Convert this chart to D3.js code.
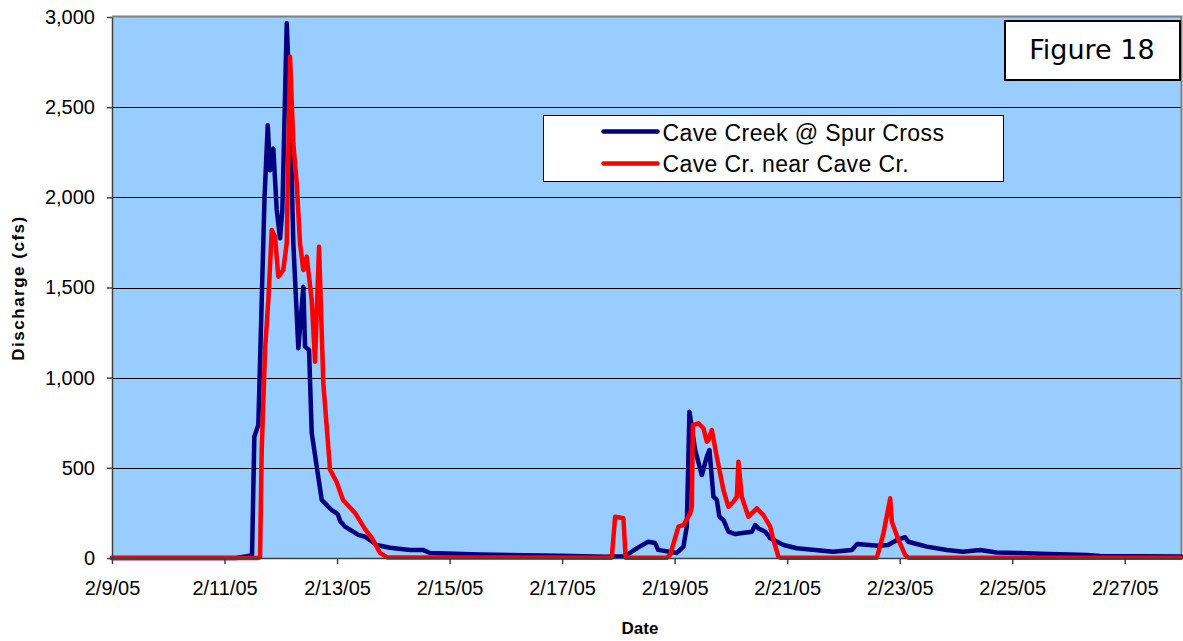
<!DOCTYPE html>
<html>
<head>
<meta charset="utf-8">
<script src="https://cdn.jsdelivr.net/npm/d3@7"></script>
<style>
  body { margin: 0; background: #fff; }
  svg { display: block; font-family: 'Liberation Sans', Arial, sans-serif; }
</style>
</head>
<body>
<svg width="1183" height="641"></svg>
<script>
// Cave Creek @ Spur Cross
const spurTimes = ["2/9/05 00:00", "2/11/05 04:54", "2/11/05 09:36", "2/11/05 11:44", "2/11/05 12:43", "2/11/05 14:25",
  "2/11/05 15:52", "2/11/05 17:04", "2/11/05 18:26", "2/11/05 19:25", "2/11/05 20:49", "2/11/05 22:16", "2/11/05 23:41",
  "2/12/05 00:40", "2/12/05 02:32", "2/12/05 03:57", "2/12/05 05:21", "2/12/05 07:29", "2/12/05 09:37", "2/12/05 10:21",
  "2/12/05 12:03", "2/12/05 13:12", "2/12/05 15:20", "2/12/05 17:28", "2/12/05 21:44", "2/12/05 23:52", "2/13/05 00:25",
  "2/13/05 01:17", "2/13/05 03:25", "2/13/05 09:05", "2/13/05 11:57", "2/13/05 16:56", "2/13/05 22:37", "2/14/05 07:09",
  "2/14/05 12:49", "2/14/05 15:41", "2/15/05 13:00", "2/16/05 23:08", "2/17/05 18:21", "2/18/05 02:53", "2/18/05 08:00",
  "2/18/05 12:42", "2/18/05 15:41", "2/18/05 16:58", "2/19/05 00:56", "2/19/05 03:45", "2/19/05 05:11", "2/19/05 06:19",
  "2/19/05 08:45", "2/19/05 11:36", "2/19/05 13:44", "2/19/05 14:51", "2/19/05 16:34", "2/19/05 17:59", "2/19/05 19:06",
  "2/19/05 20:49", "2/19/05 22:57", "2/20/05 01:49", "2/20/05 08:57", "2/20/05 10:22", "2/20/05 11:47", "2/20/05 14:38",
  "2/20/05 16:46", "2/20/05 22:27", "2/21/05 04:09", "2/21/05 19:38", "2/22/05 03:36", "2/22/05 05:52", "2/22/05 14:50",
  "2/22/05 19:06", "2/22/05 22:49", "2/23/05 02:21", "2/23/05 03:38", "2/23/05 11:36", "2/23/05 20:08", "2/24/05 03:05",
  "2/24/05 10:20", "2/24/05 17:27", "2/25/05 03:24", "2/25/05 11:56", "2/26/05 07:51", "2/26/05 13:32", "2/28/05 00:00"];
const spurFlow = [0, 0, 10, 15, 672, 737,
  1431, 2000, 2400, 2150, 2270, 1930, 1773,
  1930, 2965, 2484, 1746, 1163, 1504, 1172,
  1153, 693, 506, 322, 266, 248, 240,
  205, 174, 128, 118, 72, 57, 44,
  44, 28, 20, 12, 7, 10, 55,
  90, 83, 45, 28, 63, 174, 811,
  599, 460, 562, 599, 340, 322, 229,
  211, 146, 133, 146, 183, 164, 146,
  109, 72, 54, 35, 44, 78, 68,
  72, 100, 115, 90, 63, 44, 35,
  44, 30, 28, 24, 17, 11, 8];

// Cave Cr. near Cave Cr.
const caveTimes = ["2/9/05 00:00", "2/11/05 14:17", "2/11/05 15:09", "2/11/05 15:52", "2/11/05 17:17", "2/11/05 18:42",
  "2/11/05 20:09", "2/11/05 21:33", "2/11/05 22:57", "2/12/05 01:05", "2/12/05 02:32", "2/12/05 03:57", "2/12/05 05:21",
  "2/12/05 06:48", "2/12/05 08:12", "2/12/05 09:37", "2/12/05 11:04", "2/12/05 13:12", "2/12/05 14:37", "2/12/05 16:19",
  "2/12/05 18:09", "2/12/05 21:01", "2/12/05 23:52", "2/13/05 02:33", "2/13/05 07:41", "2/13/05 11:57", "2/13/05 14:56",
  "2/13/05 18:21", "2/13/05 21:20", "2/17/05 21:12", "2/17/05 22:37", "2/18/05 02:09", "2/18/05 03:06", "2/18/05 20:40",
  "2/18/05 22:05", "2/19/05 01:38", "2/19/05 03:45", "2/19/05 06:37", "2/19/05 07:21", "2/19/05 07:46", "2/19/05 10:10",
  "2/19/05 12:18", "2/19/05 13:44", "2/19/05 14:25", "2/19/05 15:52", "2/19/05 17:59", "2/19/05 20:49", "2/19/05 22:57",
  "2/20/05 01:05", "2/20/05 02:32", "2/20/05 03:13", "2/20/05 04:38", "2/20/05 07:29", "2/20/05 11:04", "2/20/05 13:53",
  "2/20/05 16:46", "2/20/05 18:08", "2/20/05 20:17", "2/20/05 21:00", "2/22/05 14:16", "2/22/05 17:05", "2/22/05 19:57",
  "2/22/05 20:40", "2/22/05 23:29", "2/23/05 02:21", "2/23/05 03:43", "2/28/05 00:00"];
const caveFlow = [0, 0, 5, 600, 1153, 1431,
  1819, 1782, 1560, 1597, 1746, 2780, 2300,
  2078, 1745, 1597, 1671, 1431, 1088, 1726,
  968, 490, 420, 322, 250, 160, 110,
  28, 3, 2, 229, 220, 2, 2,
  17, 174, 183, 248, 284, 737, 747,
  719, 645, 654, 710, 562, 377, 284,
  312, 340, 534, 340, 229, 275, 238,
  174, 100, 7, 2, 2, 137, 331,
  201, 100, 17, 2, 2];

const seriesNames = ["Cave Creek @ Spur Cross", "Cave Cr. near Cave Cr."];
const seriesColours = ["#000080", "#ff0000"];
const yTicks = [0, 500, 1000, 1500, 2000, 2500, 3000];
const xTickLabels = ["2/9/05", "2/11/05", "2/13/05", "2/15/05", "2/17/05", "2/19/05", "2/21/05", "2/23/05", "2/25/05", "2/27/05"];
const xDomain = ["2/9/05 00:00", "2/28/05 00:00"];

const svg = d3.select('svg');
const margin = { top: 17, right: 2, bottom: 83, left: 112 };
const width = +svg.attr('width');
const height = +svg.attr('height');

const parseTime = d3.timeParse('%m/%d/%y %H:%M');
const parseDay = d3.timeParse('%m/%d/%y');

let spurData = spurTimes.map((t, i) => ({ date: parseTime(t), value: spurFlow[i] }));
let caveData = caveTimes.map((t, i) => ({ date: parseTime(t), value: caveFlow[i] }));

let xScale = d3.scaleTime()
    .domain(xDomain.map(parseTime))
    .range([margin.left, width - margin.right]);

let yScale = d3.scaleLinear()
    .domain([0, 3000])
    .range([height - margin.bottom, margin.top]);

// plot area
svg.append('rect')
    .attr('x', margin.left)
    .attr('y', margin.top)
    .attr('width', width - margin.right - margin.left)
    .attr('height', yScale(0) - margin.top)
    .attr('fill', '#99ccff');

// gridlines
svg.append('g')
    .selectAll('line').data(yTicks.slice(1, -1)).enter()
    .append('line')
    .attr('x1', margin.left)
    .attr('x2', width - margin.right)
    .attr('y1', d => Math.round(yScale(d)) + 0.5)
    .attr('y2', d => Math.round(yScale(d)) + 0.5)
    .attr('stroke', '#000')
    .attr('stroke-width', 1);

// plot border top / right
svg.append('path')
    .attr('d', 'M' + margin.left + ',' + (margin.top - 0.5) + 'H' + (width - margin.right + 0.5) + 'V' + yScale(0))
    .attr('fill', 'none')
    .attr('stroke', '#808080')
    .attr('stroke-width', 2);

let line = d3.line()
    .x(d => xScale(d.date))
    .y(d => yScale(d.value));

[spurData, caveData].forEach((data, i) => {
    svg.append('path')
        .datum(data)
        .attr('d', line)
        .attr('fill', 'none')
        .attr('stroke', seriesColours[i])
        .attr('stroke-width', 4.5)
        .attr('stroke-linejoin', 'round')
        .attr('stroke-linecap', 'round');
});

// axes
let xAxis = d3.axisBottom(xScale)
    .tickValues(xTickLabels.map(parseDay))
    .tickFormat(d3.timeFormat('%-m/%-d/%y'))
    .tickSize(6)
    .tickSizeOuter(0)
    .tickPadding(17);

let yAxis = d3.axisLeft(yScale)
    .tickValues(yTicks)
    .tickFormat(d3.format(','))
    .tickSize(5)
    .tickSizeOuter(0)
    .tickPadding(12);

let gx = svg.append('g')
    .attr('transform', 'translate(0,' + yScale(0) + ')')
    .call(xAxis);
gx.selectAll('text').style('font-size', '20px').attr('fill', '#000');
gx.selectAll('line, path').attr('stroke', '#404040').attr('stroke-width', 1.5);

let gy = svg.append('g')
    .attr('transform', 'translate(' + margin.left + ',0)')
    .call(yAxis);
gy.selectAll('text').style('font-size', '20px').attr('fill', '#000');
gy.selectAll('line, path').attr('stroke', '#404040').attr('stroke-width', 1.5);

// axis titles
svg.append('text')
    .attr('x', 640)
    .attr('y', 634)
    .attr('text-anchor', 'middle')
    .style('font-size', '17px')
    .style('font-weight', 'bold')
    .text('Date');

svg.append('text')
    .attr('transform', 'translate(24,288) rotate(-90)')
    .attr('text-anchor', 'middle')
    .style('font-size', '17px')
    .style('font-weight', 'bold')
    .style('letter-spacing', '1.5px')
    .text('Discharge (cfs)');

// legend
let legend = svg.append('g').attr('transform', 'translate(543.5,115.5)');
legend.append('rect')
    .attr('width', 460)
    .attr('height', 66)
    .attr('fill', '#fff')
    .attr('stroke', '#000')
    .attr('stroke-width', 1);

seriesNames.forEach((name, i) => {
    legend.append('line')
        .attr('x1', 60)
        .attr('x2', 114)
        .attr('y1', 16 + i * 32)
        .attr('y2', 16 + i * 32)
        .attr('stroke', seriesColours[i])
        .attr('stroke-width', 4.5)
        .attr('stroke-linecap', 'round');
    legend.append('text')
        .attr('x', 119)
        .attr('y', 25 + i * 31.5)
        .style('font-size', '23px')
        .style('letter-spacing', '0.4px')
        .text(name);
});

// figure label
let fig = svg.append('g').attr('transform', 'translate(1005,21)');
fig.append('rect')
    .attr('width', 175)
    .attr('height', 59)
    .attr('fill', '#fff')
    .attr('stroke', '#000')
    .attr('stroke-width', 2);
fig.append('text')
    .attr('x', 87)
    .attr('y', 38)
    .attr('text-anchor', 'middle')
    .style('font-family', "'DejaVu Sans', Verdana, sans-serif")
    .style('font-size', '27px')
    .text('Figure 18');
</script>
</body>
</html>
